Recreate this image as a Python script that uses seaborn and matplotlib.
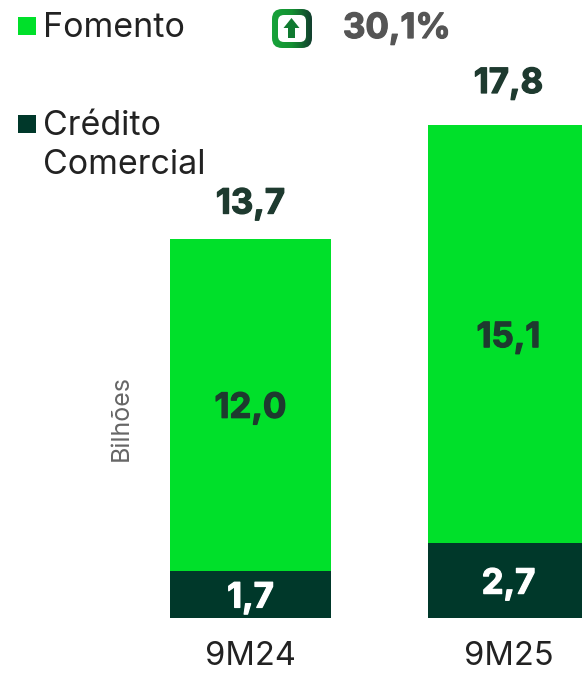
import matplotlib
matplotlib.use("Agg")
import matplotlib.pyplot as plt
import matplotlib.patheffects as pe
from matplotlib.colors import LinearSegmentedColormap
from matplotlib.patches import FancyBboxPatch, FancyArrow, Rectangle
import numpy as np
import seaborn as sns
import pandas as pd

periods = ["9M24", "9M25"]
credito = [1.7, 2.7]
fomento = [12.0, 15.1]
totais = ["13,7", "17,8"]
credito_labels = ["1,7", "2,7"]
fomento_labels = ["12,0", "15,1"]
variacao = "30,1%"
unidade = "Bilhões"

GREEN = "#00E02A"
DARK = "#00382A"
TXT = "#1E3A2F"
sns.set_style("white")
plt.rcParams["font.family"] = ["Inter", "DejaVu Sans"]

W, H = 582, 673
fig = plt.figure(figsize=(W/100, H/100), dpi=100)
fig.patch.set_facecolor("white")
ax = fig.add_axes([122/W, 1-618/H, 460/W, (618-60)/H])
df = pd.DataFrame({"p": periods, "c": credito, "f": fomento})
df["t"] = df.c + df.f
sns.barplot(data=df, x="p", y="t", color=GREEN, width=0.624, saturation=1, ax=ax, order=periods, linewidth=0)
sns.barplot(data=df, x="p", y="c", color=DARK, width=0.624, saturation=1, ax=ax, order=periods, linewidth=0)
ax.set_xlim(-128.5/258, 331.5/258)
ax.set_ylim(0, 17.8*558/493)
ax.set_xlabel(""); ax.set_ylabel("")
ax.set_yticks([])
ax.set_xticks([])
sns.despine(ax=ax, left=True, bottom=True)
ax.patch.set_alpha(0)

def bold(color):
    return [pe.withStroke(linewidth=0.9, foreground=color)]

total_offsets = [34, 41]
for i in range(2):
    ax.annotate(credito_labels[i], (i, credito[i]/2), xytext=(0, -4), textcoords="offset pixels", color="white", ha="center", va="center", fontsize=25, fontweight="bold", path_effects=bold("white"))
    ax.annotate(fomento_labels[i], (i, credito[i]+fomento[i]/2), xytext=(0, -4), textcoords="offset pixels", color=TXT, ha="center", va="center", fontsize=25, fontweight="bold", path_effects=bold(TXT))
    ax.annotate(totais[i], (i, credito[i]+fomento[i]), xytext=(0, total_offsets[i]), textcoords="offset pixels", color=TXT, ha="center", va="center", fontsize=25, fontweight="bold", path_effects=bold(TXT))
    ax.annotate(periods[i], (i, 0), xytext=(0, -47), textcoords="offset pixels", color="#222222", ha="center", va="baseline", fontsize=23.5, annotation_clip=False)

def px(x, y):
    return x/W, 1-y/H
fig.add_artist(Rectangle(px(18, 35), 18/W, 18/H, transform=fig.transFigure, color=GREEN, lw=0))
fig.add_artist(Rectangle(px(18, 133), 18/W, 18/H, transform=fig.transFigure, color=DARK, lw=0))
fig.text(*px(43, 28), "Fomento", fontsize=24.5, color="#222222", va="center")
fig.text(*px(43, 126), "Crédito", fontsize=24.5, color="#222222", va="center")
fig.text(*px(43, 165), "Comercial", fontsize=24.5, color="#222222", va="center")
fig.text(*px(121, 418), unidade, fontsize=18, color="#666666", rotation=90, va="center", ha="center")
fig.text(*px(343, 29), variacao, fontsize=25, fontweight="bold", color="#555555", va="center", path_effects=bold("#555555"))

bax = fig.add_axes([0, 0, 1, 1]); bax.set_xlim(0, W); bax.set_ylim(H, 0); bax.axis("off")
cmap = LinearSegmentedColormap.from_list("g", ["#17A33A", "#149032", "#123F2E"])
grad = np.linspace(0, 1, 64).reshape(1, -1)
im = bax.imshow(grad, cmap=cmap, extent=(272, 312, 48, 9), aspect="auto", zorder=1)
outer = FancyBboxPatch((272, 9), 40, 39, boxstyle="round,pad=0,rounding_size=10", fc="none", ec="none", transform=bax.transData)
bax.add_patch(outer)
im.set_clip_path(outer)
bax.add_patch(FancyBboxPatch((278, 15), 28, 27, boxstyle="round,pad=0,rounding_size=6", fc="white", ec="none", zorder=2))
bax.add_patch(FancyArrow(291.5, 38, 0, -20, width=7, head_width=16, head_length=10, length_includes_head=True, fc="#0F7A30", ec="none", zorder=3))
bax.set_xlim(0, W); bax.set_ylim(H, 0)
fig.savefig("out.png", dpi=100)
